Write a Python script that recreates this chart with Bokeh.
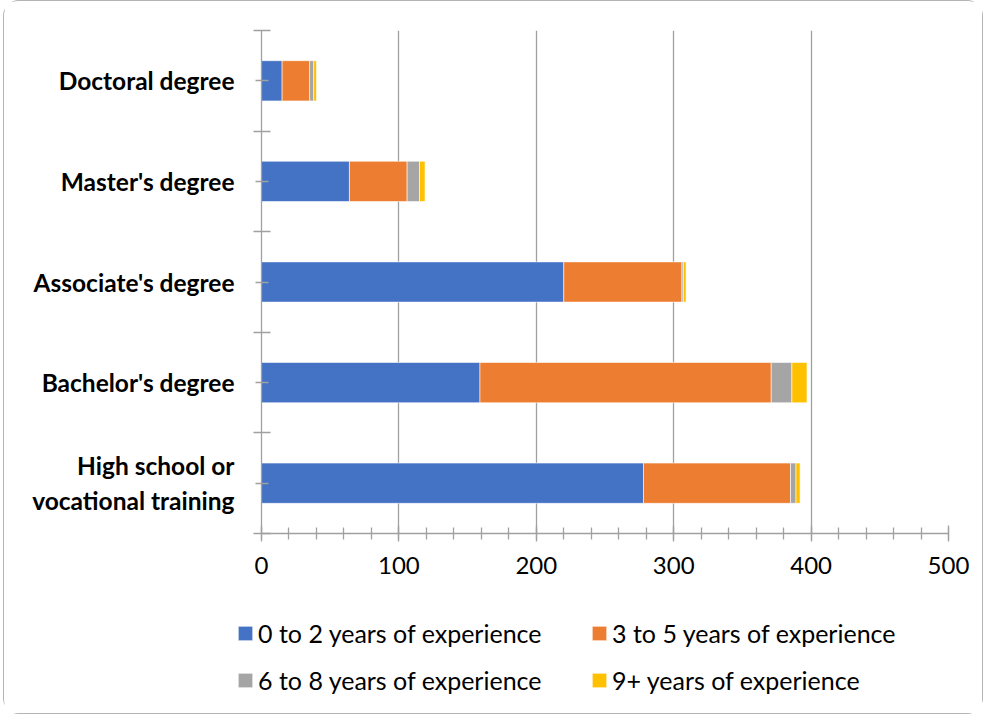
from bokeh.plotting import figure
from bokeh.models import ColumnDataSource, Range1d, FixedTicker, Legend, LegendItem
from bokeh.embed import file_html
from bokeh.resources import INLINE

# ---- data (bottom to top) ----
categories = ["High school or\nvocational training", "Bachelor's degree",
              "Associate's degree", "Master's degree", "Doctoral degree"]
yrs_0_2 = [278, 159, 220, 64, 15]
yrs_3_5 = [107, 212, 86, 42, 20]
yrs_6_8 = [4, 15, 1, 9, 3]
yrs_9_plus = [3, 11, 2, 4, 2]
series_names = ["0 to 2 years of experience", "3 to 5 years of experience",
                "6 to 8 years of experience", "9+ years of experience"]
x_ticks = [0, 100, 200, 300, 400, 500]
colors = ["#4472C4", "#ED7D31", "#A5A5A5", "#FFC000"]

ypos = [i + 0.5 for i in range(len(categories))]
source = ColumnDataSource(dict(y=ypos, s0=yrs_0_2, s1=yrs_3_5, s2=yrs_6_8, s3=yrs_9_plus))
stackers = ["s0", "s1", "s2", "s3"]

FONT = "Lato"
GREY = "#a0a0a0"
BORDER = "1px solid #b4b4b4"

p = figure(width=980, height=600, output_backend="svg", toolbar_location=None,
           x_range=Range1d(0, 500), y_range=Range1d(0, len(categories)),
           min_border_left=257, min_border_right=36, min_border_top=29, min_border_bottom=68)
p.outline_line_color = None
p.background_fill_color = "white"
p.border_fill_color = "white"
p.styles = {"border-left": BORDER, "border-right": BORDER, "border-top": BORDER,
            "border-radius": "16px 16px 0 0", "margin-left": "3px"}

renderers = p.hbar_stack(stackers, y="y", height=0.4, source=source,
                         color=colors, line_color="white", line_width=0.8, line_alpha=0.7)

# x axis
p.xaxis.ticker = FixedTicker(ticks=x_ticks, minor_ticks=list(range(0, 501, 20)))
p.xaxis.axis_line_color = GREY
p.xaxis.axis_line_width = 1.3
p.xaxis.major_tick_line_color = GREY
p.xaxis.major_tick_line_width = 1.3
p.xaxis.major_tick_in = 8
p.xaxis.major_tick_out = 8
p.xaxis.minor_tick_line_color = GREY
p.xaxis.minor_tick_line_width = 1.3
p.xaxis.minor_tick_in = 6
p.xaxis.minor_tick_out = 6
p.xaxis.major_label_text_font = FONT
p.xaxis.major_label_text_font_size = "24px"
p.xaxis.major_label_text_color = "#000000"
p.xaxis.major_label_standoff = 15

# y axis
p.yaxis.ticker = FixedTicker(ticks=ypos, minor_ticks=list(range(0, len(categories) + 1)))
p.yaxis.major_label_overrides = {y: c for y, c in zip(ypos, categories)}
p.yaxis.axis_line_color = GREY
p.yaxis.axis_line_width = 1.3
p.yaxis.major_tick_line_color = GREY
p.yaxis.major_tick_line_width = 1.3
p.yaxis.major_tick_in = 7
p.yaxis.major_tick_out = 6
p.yaxis.minor_tick_line_color = GREY
p.yaxis.minor_tick_line_width = 1.3
p.yaxis.minor_tick_in = 9
p.yaxis.minor_tick_out = 8
p.yaxis.major_label_text_font = FONT
p.yaxis.major_label_text_font_style = "bold"
p.yaxis.major_label_text_font_size = "24.5px"
p.yaxis.major_label_text_color = "#000000"
p.yaxis.major_label_text_align = "center"
p.yaxis.major_label_standoff = 19

p.xgrid.ticker = FixedTicker(ticks=x_ticks[1:])
p.xgrid.grid_line_color = GREY
p.xgrid.grid_line_width = 1.3
p.ygrid.grid_line_color = None

# legend strip (separate root below the chart, same series styles)
pl = figure(width=980, height=114, output_backend="svg", toolbar_location=None,
            x_range=Range1d(0, 500), y_range=Range1d(0, len(categories)),
            x_axis_type=None, y_axis_type=None,
            min_border_left=0, min_border_right=0, min_border_top=0, min_border_bottom=0)
pl.outline_line_color = None
pl.grid.visible = False
pl.border_fill_color = "white"
pl.background_fill_color = "white"
pl.styles = {"border-left": BORDER, "border-right": BORDER, "border-bottom": BORDER,
             "border-radius": "0 0 16px 16px", "margin-left": "3px"}
leg_renderers = pl.hbar_stack(stackers, y="y", height=0.4, source=source, color=colors,
                              line_color="white", line_width=0.8, line_alpha=0.7)
for r in leg_renderers:
    r.visible = False

legend = Legend(items=[LegendItem(label=n, renderers=[r]) for n, r in zip(series_names, leg_renderers)],
                ncols=2, orientation="horizontal", location=(232, 11),
                glyph_width=18, glyph_height=18, label_standoff=4, label_width=332,
                label_height=47, spacing=0, padding=0, margin=0,
                inactive_fill_alpha=0,
                border_line_color=None, background_fill_alpha=0,
                label_text_font=FONT, label_text_font_size="25px", label_text_color="#000000")
pl.add_layout(legend, "center")

open("out.html", "w").write(file_html([p, pl], INLINE))
